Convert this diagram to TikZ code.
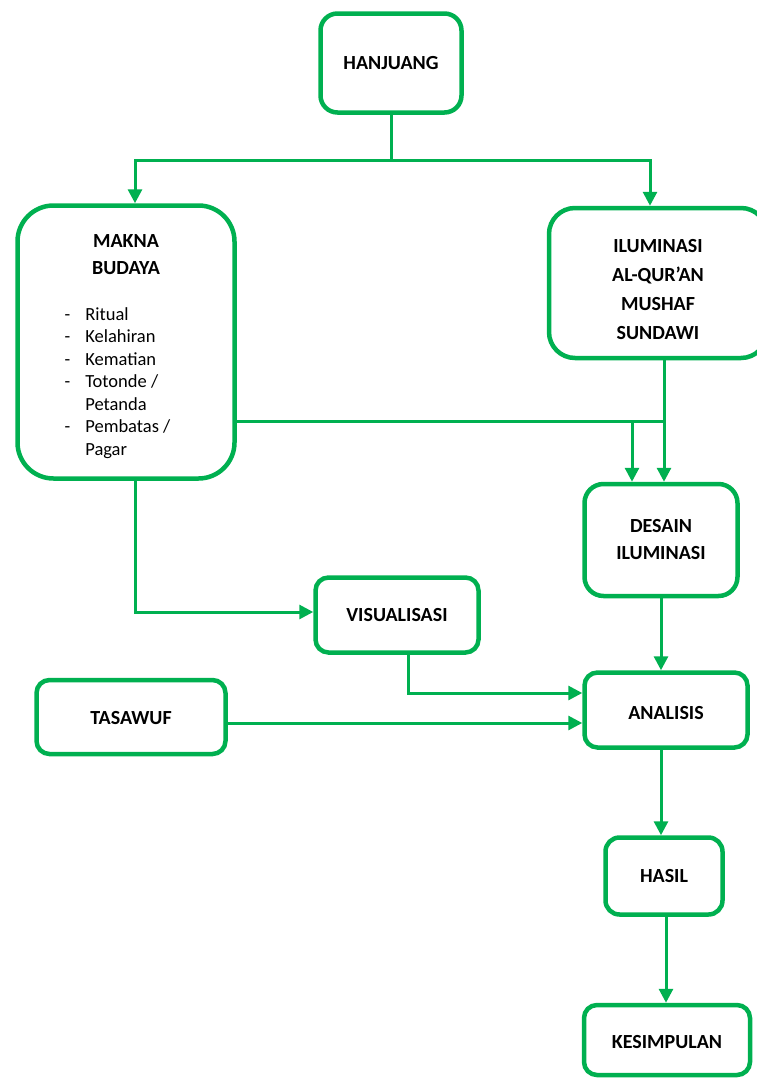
\documentclass[tikz,border=0pt]{standalone}
\usepackage{fontspec}
\setmainfont{Carlito}
\usetikzlibrary{positioning, calc, arrows.meta}
\definecolor{clGreen}{RGB}{0,176,80}
\tikzset{
  box/.style={
    draw=clGreen, line width=4.5pt, align=center, inner sep=0pt,
    font=\bfseries\fontsize{20}{27}\selectfont, text=black
  },
  link/.style={
    line width=3pt, draw=clGreen
  },
  arr/.style={
    link, -{Triangle[length=14pt, width=14pt]}
  }
}

\begin{document}
\begin{tikzpicture}[x=1pt, y=-1pt]
    \useasboundingbox (0,0) rectangle (757,1079);

    % ============================================================
    % NODES
    % ============================================================
    \node (han) [box, minimum width=141pt, minimum height=99pt, rounded corners=17pt] at (391,63) {HANJUANG};

    \node (makna) [box, minimum width=217pt, minimum height=273pt, rounded corners=36pt] at (126,342) {
      \rule{0pt}{25pt}MAKNA\\BUDAYA\\[19pt]
      {\normalfont\fontsize{18.5}{22.5}\selectfont
      \begin{tabular}[t]{@{}l@{\hspace{15pt}}l@{\hspace{17pt}}}
        - & Ritual\\
        - & Kelahiran\\
        - & Kematian\\
        - & Totonde /\\
          & Petanda\\
        - & Pembatas /\\
          & Pagar
      \end{tabular}}
    };

    \node (ilu) [box, minimum width=218pt, minimum height=150pt, rounded corners=26pt, font=\bfseries\fontsize{20}{29}\selectfont] at (658,283) {
      \rule{0pt}{27pt}ILUMINASI\\AL-QUR’AN\\MUSHAF\\SUNDAWI
    };

    \node (desain) [box, minimum width=153pt, minimum height=112pt, rounded corners=19pt] at (661,540) {
      DESAIN\\ILUMINASI
    };

    \node (vis) [box, minimum width=163pt, minimum height=75pt, rounded corners=13pt] at (397,615) {VISUALISASI};

    \node (tas) [box, minimum width=189pt, minimum height=74pt, rounded corners=13pt] at (131,717) {\rule{0pt}{16pt}TASAWUF};

    \node (anal) [box, minimum width=163pt, minimum height=75pt, rounded corners=13pt] at (666,710) {\rule{0pt}{20pt}ANALISIS};

    \node (hasil) [box, minimum width=117pt, minimum height=77pt, rounded corners=14pt] at (664,876) {HASIL};

    \node (kes) [box, minimum width=166pt, minimum height=70pt, rounded corners=13pt] at (667,1040) {\rule{0pt}{18pt}KESIMPULAN};

    \coordinate (jn) at (632,421);

    % ============================================================
    % CONNECTIONS
    % ============================================================
    % Split from the top node
    \draw [arr] (han.south) -- ++(0,46) -| ([xshift=9pt]makna.north);
    \draw [arr] (han.south) -- ++(0,46) -| ([xshift=-8pt]ilu.north);

    % Into the design box
    \draw [link] ([yshift=-79pt]makna.east) -- ([xshift=3pt]desain.north |- jn);
    \draw [arr] (jn) -- (jn |- desain.north);
    \draw [arr] ([xshift=6pt]ilu.south) -- ([xshift=3pt]desain.north);

    % Culture to visualisation
    \draw [arr] ([xshift=9pt]makna.south) |- ([yshift=3pt]vis.west);

    % Into the analysis box
    \draw [arr] ([xshift=11pt]vis.south) |- ([yshift=17pt]anal.west);
    \draw [arr] ([yshift=-6pt]tas.east) -- ([yshift=-6pt]tas.east -| anal.west);
    \draw [arr] (desain.south) -- (desain.south |- anal.north);

    % Down to the result and conclusion
    \draw [arr] ([xshift=-5pt]anal.south) -- ([xshift=-5pt]anal.south |- hasil.north);
    \draw [arr] ([xshift=2pt]hasil.south) -- ([xshift=2pt]hasil.south |- kes.north);

\end{tikzpicture}
\end{document}
